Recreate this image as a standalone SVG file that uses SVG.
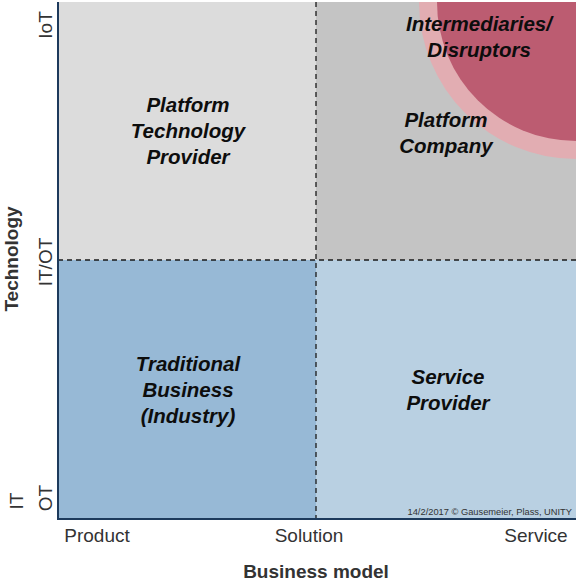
<svg xmlns="http://www.w3.org/2000/svg" width="576" height="581" viewBox="0 0 576 581">
<defs>
<clipPath id="tr"><rect x="316" y="2" width="260" height="258"/></clipPath>
</defs>
<style>
.q{font-family:"Liberation Sans",Arial,sans-serif;font-weight:bold;font-style:italic;font-size:20.5px;fill:#0d0d0d;text-anchor:middle}
.ax{font-family:"Liberation Sans",Arial,sans-serif;font-size:19px;fill:#333;text-anchor:middle}
.title{font-family:"Liberation Sans",Arial,sans-serif;font-size:19px;font-weight:bold;fill:#333;text-anchor:middle}
.div{stroke:#1a1a1a;stroke-width:1.3;stroke-dasharray:5,4;fill:none}
.axis{stroke:#1d3a5c;stroke-width:2;fill:none}
</style>
<rect width="576" height="581" fill="#ffffff"/>
<g id="q-top-left"><rect x="58" y="2" width="258" height="258" fill="#dcdcdc"/></g>
<g id="q-top-right"><rect x="316" y="2" width="260" height="258" fill="#c4c4c4"/>
<g clip-path="url(#tr)">
<circle cx="576" cy="2" r="157" fill="#e2adb2"/>
<circle cx="576" cy="2" r="139" fill="#bc5c71"/>
</g></g>
<g id="q-bottom-left"><rect x="58" y="260" width="258" height="259" fill="#97b9d6"/></g>
<g id="q-bottom-right"><rect x="316" y="260" width="260" height="259" fill="#b9d0e2"/></g>
<g id="connectors">
<line class="div" x1="58" y1="260" x2="576" y2="260"/>
<line class="div" x1="316" y1="2" x2="316" y2="519"/>
<line class="axis" x1="58" y1="2" x2="58" y2="519"/>
<line class="axis" x1="57" y1="519" x2="576" y2="519"/>
</g>
<g id="label-ptp"><text class="q" x="188" y="112">Platform</text><text class="q" x="188" y="138">Technology</text><text class="q" x="188" y="164">Provider</text></g>
<g id="label-int"><text class="q" x="479" y="31">Intermediaries/</text><text class="q" x="479" y="57">Disruptors</text></g>
<g id="label-pc"><text class="q" x="446" y="127">Platform</text><text class="q" x="446" y="153">Company</text></g>
<g id="label-tb"><text class="q" x="188" y="371">Traditional</text><text class="q" x="188" y="397">Business</text><text class="q" x="188" y="423">(Industry)</text></g>
<g id="label-sp"><text class="q" x="448" y="384">Service</text><text class="q" x="448" y="410">Provider</text></g>
<text x="572" y="515" font-family="'Liberation Sans',Arial,sans-serif" font-size="9.3" fill="#333" text-anchor="end">14/2/2017 © Gausemeier, Plass, UNITY</text>
<text class="ax" x="97" y="542">Product</text>
<text class="ax" x="309" y="542">Solution</text>
<text class="ax" x="536" y="542">Service</text>
<text class="title" x="316" y="578">Business model</text>
<text class="ax" transform="translate(52,25) rotate(-90)">IoT</text>
<text class="ax" transform="translate(52,262) rotate(-90)">IT/OT</text>
<text class="ax" transform="translate(52,498) rotate(-90)">OT</text>
<text class="ax" transform="translate(23,501) rotate(-90)">IT</text>
<text class="title" transform="translate(18,259) rotate(-90)">Technology</text>
</svg>
